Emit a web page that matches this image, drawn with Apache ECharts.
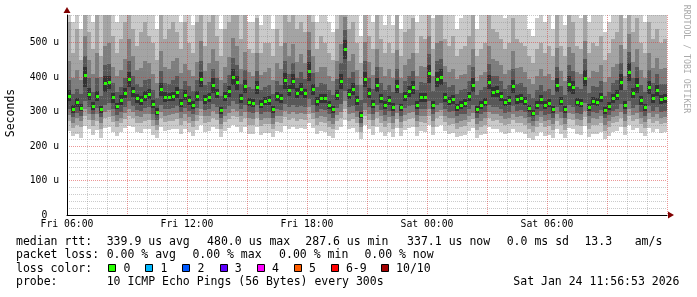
<!DOCTYPE html>
<html><head><meta charset="utf-8">
<script src="https://cdn.jsdelivr.net/npm/echarts@6/dist/echarts.min.js"></script>
<style>html,body{margin:0;padding:0;background:#fff}#c{width:697px;height:297px}</style>
</head><body><div id="c"></div>
<script>
// time in hours after Fri 06:00, one column every 12 minutes
const stepHours = 0.2;
const xTickLabels = ['Fri 06:00','Fri 12:00','Fri 18:00','Sat 00:00','Sat 06:00'];
const yTickLabels = ['0  ','100 u','200 u','300 u','400 u','500 u'];
const yMinorGrid = [20,40,60,80,120,140,160,180,220,240,260,280,320,340,360,380,420,440,460,480,520,540,560,580];

// median rtt (microseconds)
const median = [
345,305,325,310,405,350,315,345,305,380,
385,340,315,332,352,393,358,338,332,344,
350,321,298,364,341,341,344,356,324,347,
332,318,344,393,335,340,376,352,303,344,
358,400,384,338,373,327,324,370,321,329,
332,306,344,338,390,361,387,352,364,352,
416,364,328,338,338,318,306,347,387,480,
350,364,332,287.6,393,352,321,376,338,318,
332,312,373,312,344,358,370,318,341,341,
410,318,393,399,340,329,335,312,318,324,
344,376,306,318,327,384,356,358,344,325,
332,373,335,338,329,309,295,318,335,318,
324,306,376,330,306,379,370,327,324,396,
312,330,327,341,303,315,338,347,384,318,
413,352,376,332,312,370,338,361,335,337.1];

// sorted pings 1..10 (microseconds)
const ping1 = [
244,228,236,224,258,250,232,246,222,252,
256,242,230,240,252,258,254,240,238,248,
250,232,224,254,244,246,248,250,236,248,
240,230,246,262,240,244,256,250,226,244,
252,262,256,242,256,236,234,254,232,238,
238,226,244,242,258,250,256,248,252,250,
266,252,236,244,240,230,224,246,256,276,
248,252,240,220,260,250,232,254,242,230,
240,226,252,228,246,252,254,230,244,242,
262,232,254,260,244,236,238,226,230,232,
244,252,222,232,236,256,248,250,242,234,
238,250,240,242,236,224,218,230,240,230,
232,222,248,236,222,252,250,234,232,258,
226,236,234,242,220,230,240,244,256,232,
262,246,252,238,228,252,240,248,238,240];
const ping2 = [
272,252,262,256,286,276,258,274,248,280,
284,270,256,266,278,286,280,268,266,274,
276,258,246,280,270,272,274,278,262,274,
266,256,272,288,268,270,282,276,248,270,
278,288,284,270,282,262,260,280,258,264,
264,248,270,268,284,276,282,274,278,276,
292,278,262,270,266,256,248,272,282,306,
274,278,266,240,286,276,258,280,268,254,
266,250,278,252,272,278,280,254,270,268,
288,256,280,286,270,262,264,250,254,258,
270,278,246,256,262,282,274,276,268,260,
264,276,266,268,262,248,240,254,266,254,
258,246,274,262,246,278,276,260,258,284,
250,262,260,268,244,254,266,270,282,256,
288,272,278,264,252,278,266,274,264,266];
const ping3 = [
290,268,280,272,306,294,276,292,266,298,
304,288,274,282,296,306,298,286,284,292,
294,276,262,298,288,290,292,296,280,292,
284,274,290,308,286,288,302,294,264,288,
296,308,302,288,300,280,278,298,276,282,
282,264,288,286,302,294,300,292,296,294,
312,296,280,288,284,274,264,290,300,330,
292,296,284,254,304,294,276,298,286,272,
284,268,296,270,290,296,298,272,288,286,
308,274,298,304,288,280,282,268,272,276,
288,296,264,274,280,300,292,294,286,278,
282,294,284,286,280,266,258,272,284,272,
276,264,292,280,264,296,294,278,276,302,
268,280,278,286,262,272,284,288,300,274,
306,290,296,282,270,296,284,292,282,284];
const ping4 = [
308,284,296,288,330,312,292,310,284,318,
326,306,290,300,314,330,316,304,302,310,
312,294,276,318,306,308,310,316,298,310,
302,292,310,330,304,306,322,312,280,308,
316,330,322,306,320,298,296,318,294,300,
300,282,308,304,322,314,320,312,316,312,
336,318,298,306,304,292,282,310,322,360,
312,316,302,268,326,314,294,320,304,290,
302,286,318,288,310,316,318,290,306,306,
332,292,320,326,306,298,302,286,292,294,
308,318,282,292,298,320,312,314,306,296,
300,316,302,304,298,284,272,290,302,290,
294,282,314,298,282,318,314,296,294,324,
286,298,296,304,280,290,302,308,322,292,
330,310,318,300,288,316,302,312,300,302];
const ping5 = [
330,296,312,301,372,334,305,332,297,356,
366,326,306,318,338,370,341,325,320,330,
335,310,290,345,328,330,332,340,314,333,
320,308,330,372,323,327,355,338,294,331,
342,376,362,325,354,316,313,352,311,318,
319,297,331,326,366,345,365,338,347,338,
388,347,316,325,326,308,297,333,364,452,
336,348,320,280,370,338,311,356,325,308,
320,302,354,303,330,343,352,308,328,329,
384,308,372,376,327,318,323,303,308,313,
331,356,297,308,316,364,341,343,331,315,
320,354,323,326,318,300,287,308,323,308,
313,297,356,318,297,358,352,316,313,374,
302,318,316,328,294,305,325,333,362,308,
388,338,355,320,302,351,326,345,323,325];
const ping6 = [
362,318,340,322,430,368,328,360,316,402,
402,355,326,347,368,415,372,352,345,360,
366,334,309,384,356,354,358,372,336,362,
346,330,360,414,348,354,396,366,314,358,
374,424,404,352,392,340,336,388,333,342,
346,317,358,351,412,378,410,368,382,366,
444,380,341,352,351,330,316,362,410,508,
366,382,345,298,416,367,333,396,352,330,
346,324,392,323,358,374,388,330,355,354,
436,330,414,422,354,341,348,322,330,336,
358,396,316,330,340,406,372,374,358,337,
345,392,348,351,341,319,305,330,348,330,
336,316,398,343,317,402,388,340,336,420,
323,343,339,355,313,327,352,362,408,330,
440,367,398,345,323,390,351,378,348,350];
const ping7 = [
392,352,366,350,462,396,358,398,346,436,
438,382,356,372,398,446,404,380,372,392,
394,362,340,418,384,380,392,404,364,390,
374,360,392,448,376,386,424,398,346,384,
406,456,436,380,420,370,364,418,362,372,
378,350,390,378,446,410,442,396,414,394,
478,412,370,384,380,362,348,394,440,536,
398,414,376,334,448,398,364,428,384,362,
378,356,424,354,390,404,418,362,386,384,
466,360,446,452,386,372,378,352,362,366,
388,428,348,362,372,438,404,402,388,366,
376,424,380,382,370,352,338,362,378,360,
366,348,430,374,348,434,418,370,366,452,
354,374,370,388,344,358,384,392,440,362,
472,398,428,376,356,420,382,408,380,380];
const ping8 = [
446,398,420,392,520,450,410,470,400,490,
500,430,404,420,452,510,460,420,426,448,
440,410,384,476,430,424,448,456,412,438,
420,402,444,506,418,440,482,446,392,430,
458,512,490,424,472,414,404,470,406,416,
426,392,440,422,500,462,496,444,466,440,
530,462,414,430,428,402,390,446,496,575,
446,466,420,376,502,444,406,480,430,404,
424,398,478,398,436,452,470,404,432,430,
520,404,500,506,432,416,424,394,406,410,
434,482,390,406,416,490,452,448,434,410,
420,476,426,428,414,394,380,404,424,402,
410,392,484,418,390,488,470,414,410,504,
396,418,414,434,386,400,430,438,494,404,
526,444,480,420,398,470,426,456,424,426];
const ping9 = [
560,470,540,450,620,530,480,590,460,600,
610,520,470,510,560,620,540,490,530,560,
520,500,450,590,510,540,560,530,480,560,
500,470,560,610,490,560,590,520,460,540,
560,620,580,510,590,480,470,570,470,500,
500,460,540,490,610,560,600,540,560,530,
620,560,480,520,500,470,450,540,600,650,
540,560,500,440,610,520,480,590,510,470,
500,470,580,460,530,540,570,470,520,510,
620,480,600,610,510,490,520,460,480,490,
520,590,460,480,500,600,540,530,510,480,
500,570,510,500,490,460,440,480,500,470,
490,460,580,490,460,590,560,490,480,610,
470,500,490,520,450,470,510,530,590,480,
620,530,570,500,470,560,510,540,500,510];
const ping10 = [
700,560,680,540,720,650,560,700,580,720,
720,640,560,620,690,740,650,580,660,700,
620,590,540,700,600,680,700,640,560,690,
600,550,690,720,580,700,720,620,540,660,
680,740,700,600,710,560,560,690,550,600,
590,540,660,580,720,680,720,640,680,620,
740,680,560,640,600,560,530,660,720,760,
650,680,600,520,720,620,560,700,600,550,
600,550,700,540,640,660,690,560,620,600,
740,570,720,720,620,580,640,540,570,580,
620,700,540,580,600,720,650,640,610,570,
600,690,620,600,580,540,520,570,600,560,
590,540,700,590,550,710,680,580,570,720,
560,600,590,630,530,560,620,640,700,570,
740,640,690,600,560,680,620,660,600,620];

const lossLabels = ['0','1','2','3','4','5','6-9','10/10'];
const lossColors = ['#26ff00','#00b8ff','#0059ff','#5e00ff','#ff00ff','#ff5e00','#ff0000','#a10000'];
const smokeColors = ['#cacaca','#a4a4a4','#7e7e7e','#585858','#323232'];
const pings = [ping1,ping2,ping3,ping4,ping5,ping6,ping7,ping8,ping9,ping10];

const MONO = '"DejaVu Sans Mono", monospace';
const chart = echarts.init(document.getElementById('c'), null, {renderer:'canvas'});

const minorColor = 'rgba(140,140,140,0.45)';
const majorColor = 'rgba(215,45,45,0.5)';

function bandItem(color){
  return function(params, api){
    const t = api.value(0), lo = api.value(1), hi = api.value(2);
    const a = api.coord([t, lo]);
    const b = api.coord([t + stepHours, hi]);
    const x0 = Math.round(a[0]), x1 = Math.round(b[0]);
    const y0 = Math.round(a[1]), y1 = Math.round(b[1]);
    const cs = params.coordSys;
    const r = echarts.graphic.clipRectByRect({x:x0, y:y1, width:x1-x0, height:y0-y1},
      {x:cs.x, y:cs.y, width:cs.width, height:cs.height});
    if (!r) return null;
    return {type:'rect', shape:r, style:{fill:color}};
  };
}
function medianItem(params, api){
  const p = api.coord([api.value(0), api.value(1)]);
  return {type:'rect', shape:{x:Math.round(p[0]-1.5), y:Math.round(p[1]-1.5), width:3, height:3},
    style:{fill:lossColors[0]}};
}
function gridLineItem(params, api){
  const v = api.value(0);
  const cs = params.coordSys;
  const y = Math.round(api.coord([0, v])[1]) + 0.5;
  return {type:'line', shape:{x1:cs.x, y1:y, x2:cs.x + cs.width, y2:y},
    style:{stroke:minorColor, lineWidth:1, lineDash:[1,1]}};
}

const series = [];
for (let k = 0; k < 5; k++){
  series.push({
    type:'custom', silent:true, z:2,
    renderItem: bandItem(smokeColors[k]),
    encode:{x:0, y:[1,2]},
    data: median.map((_, i) => [i*stepHours, pings[k][i], pings[9-k][i]])
  });
}
series.push({
  type:'custom', silent:true, z:3,
  renderItem: medianItem,
  encode:{x:0, y:1},
  data: median.map((m, i) => [i*stepHours + stepHours/2, m])
});
series.push({
  type:'custom', silent:true, z:4, clip:false,
  renderItem: gridLineItem,
  encode:{y:0},
  data: yMinorGrid.map(v => [v])
});

const tickFont = {color:'#000', fontFamily:MONO, fontSize:9.75};

const legendLine1 = [['median rtt:',16],['339.9 us avg',106.7],['480.0 us max',207.1],['287.6 us min',305.3],
  ['337.1 us now',407.1],['0.0 ms sd',506.7],['13.3',584.4],['am/s',634.7]];
const legendLine2 = [['packet loss:',16],['0.00 % avg',106.7],['0.00 % max',192.4],['0.00 % min',279.1],['0.00 % now',364.4]];
const legendLine4 = [['probe:',16],['10 ICMP Echo Pings (56 Bytes) every 300s',106.7],['Sat Jan 24 11:56:53 2026',513.3]];
const boxX = [108.4,145.3,182.2,219.6,256.9,293.8,330.7,380.9];

const graphics = [];
function txt(s, x, y){
  graphics.push({type:'text', x:x, y:y, silent:true,
    style:{text:s, font:'11.5px ' + MONO, fill:'#000', align:'left', verticalAlign:'middle'}});
}
legendLine1.forEach(d => txt(d[0], d[1], 241.7));
legendLine2.forEach(d => txt(d[0], d[1], 255.2));
txt('loss color:', 16, 268.8);
lossLabels.forEach((l, i) => {
  graphics.push({type:'rect', silent:true, shape:{x:Math.round(boxX[i])+0.5, y:264.5, width:7, height:7},
    style:{fill:lossColors[i], stroke:'#000', lineWidth:1}});
  txt(l, boxX[i] + 15.2, 268.8);
});
legendLine4.forEach(d => txt(d[0], d[1], 282.3));
graphics.push({type:'text', x:11.5, y:113, rotation:Math.PI/2, silent:true,
  style:{text:'Seconds', font:'11.5px ' + MONO, fill:'#000', align:'center', verticalAlign:'middle'}});
graphics.push({type:'text', x:686.5, y:59, rotation:-Math.PI/2, silent:true,
  style:{text:'RRDTOOL / TOBI OETIKER', font:'8.2px ' + MONO, fill:'#aaaaaa', align:'center', verticalAlign:'middle'}});

chart.setOption({
  animation:false,
  backgroundColor:'#ffffff',
  grid:{left:67, right:30, top:15, bottom:82, containLabel:false},
  xAxis:[
    {type:'value', min:0, max:30, interval:3, z:5,
     axisLine:{show:true, onZero:false, lineStyle:{color:'#000', width:1}},
     axisTick:{show:false},
     axisLabel:Object.assign({margin:4, formatter:v => (v % 6 === 0 ? (xTickLabels[v/6] || '') : '')}, tickFont),
     minorTick:{show:false, splitNumber:3},
     minorSplitLine:{show:true, lineStyle:{color:minorColor, width:1, type:[1,1]}},
     splitLine:{show:true, lineStyle:{color:majorColor, width:1, type:[1,1]}}},
    {type:'value', min:0, max:30, interval:30, position:'bottom', z:6,
     axisLine:{show:true, onZero:false, symbol:['none','triangle'], symbolSize:[7,6], symbolOffset:[0,4],
       lineStyle:{color:'#800000', width:0}},
     axisTick:{show:false}, axisLabel:{show:false}, splitLine:{show:false}}
  ],
  yAxis:[
    {type:'value', min:0, max:580, interval:100, z:5,
     axisLine:{show:true, onZero:false, lineStyle:{color:'#000', width:1}},
     axisTick:{show:false},
     axisLabel:Object.assign({margin:8, formatter:v => (v % 100 === 0 ? (yTickLabels[v/100] || '') : '')}, tickFont),
     splitLine:{show:true, showMaxLine:false, lineStyle:{color:majorColor, width:1, type:[1,1]}}},
    {type:'value', min:0, max:580, interval:100, position:'left', z:6,
     axisLine:{show:true, onZero:false, symbol:['none','triangle'], symbolSize:[7,6], symbolOffset:[0,5],
       lineStyle:{color:'#800000', width:0}},
     axisTick:{show:false}, axisLabel:{show:false}, splitLine:{show:false}}
  ],
  series: series,
  graphic: graphics
});
</script></body></html>
